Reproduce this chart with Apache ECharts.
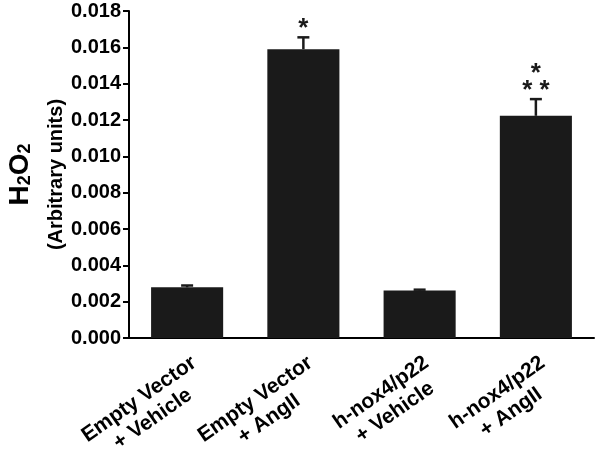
<!DOCTYPE html>
<html>
<head>
<meta charset="utf-8">
<script src="https://cdn.jsdelivr.net/npm/echarts@6/dist/echarts.min.js"></script>
<style>
  html, body { margin: 0; padding: 0; background: #fff; }
  #chart { width: 601px; height: 452px; }
</style>
</head>
<body>
<div id="chart"></div>
<script>
var groups = ['Empty Vector\n+ Vehicle', 'Empty Vector\n+ AngII', 'h-nox4/p22\n+ Vehicle', 'h-nox4/p22\n+ AngII'];
var means = [0.00279, 0.0159, 0.00261, 0.01223];
var errors = [0.0001, 0.00065, 0.00005, 0.00092];
var marks = ['', '*', '', '*\n* *'];
var yTicks = { min: 0, max: 0.018, step: 0.002 };

var font = 'Liberation Sans, Arial, sans-serif';
var ink = '#1a1a1a';

var chart = echarts.init(document.getElementById('chart'));

var errData = [];
for (var i = 0; i < means.length; i++) {
  errData.push([i, means[i], errors[i]]);
}

chart.setOption({
  animation: false,
  grid: { left: 129, right: 7, top: 11, bottom: 114, outerBoundsMode: 'none', containLabel: false },
  xAxis: {
    type: 'category',
    data: groups,
    axisLine: { lineStyle: { color: '#000', width: 2 } },
    axisTick: { alignWithLabel: true, length: 6, lineStyle: { color: '#000', width: 2 } },
    axisLabel: {
      interval: 0,
      rotate: 35,
      margin: 13,
      verticalAlign: 'top',
      formatter: function (v) {
        return v.split('\n').map(function (s) { return '{c|' + s + '}'; }).join('\n');
      },
      rich: {
        c: { align: 'center', fontSize: 21, fontWeight: 'bold', fontFamily: font, color: '#000', lineHeight: 24 }
      }
    }
  },
  yAxis: {
    type: 'value',
    min: yTicks.min,
    max: yTicks.max,
    interval: yTicks.step,
    splitLine: { show: false },
    axisLine: { show: true, lineStyle: { color: '#000', width: 2 } },
    axisTick: { show: true, length: 6, lineStyle: { color: '#000', width: 2 } },
    axisLabel: {
      margin: 8,
      fontSize: 20,
      fontWeight: 'bold',
      fontFamily: font,
      color: '#000',
      formatter: function (v) { return v.toFixed(3); }
    },
    name: '{h|H}{s|2}{h|O}{s|2}\n{u|(Arbitrary units)}',
    nameLocation: 'middle',
    nameGap: 51,
    nameMoveOverlap: false,
    nameTextStyle: {
      rich: {
        h: { fontSize: 28, fontWeight: 'bold', fontFamily: font, color: '#000', lineHeight: 28 },
        s: { fontSize: 18, fontWeight: 'bold', fontFamily: font, color: '#000', verticalAlign: 'bottom' },
        u: { fontSize: 20, fontWeight: 'bold', fontFamily: font, color: '#000', lineHeight: 44, align: 'center' }
      }
    }
  },
  series: [
    {
      type: 'bar',
      data: means,
      barWidth: '62%',
      itemStyle: { color: ink }
    },
    {
      type: 'custom',
      data: errData,
      z: 10,
      renderItem: function (params, api) {
        var base = api.coord([api.value(0), api.value(1)]);
        var top = api.coord([api.value(0), api.value(1) + api.value(2)]);
        var cap = 6;
        var children = [
          { type: 'line', shape: { x1: base[0], y1: base[1], x2: top[0], y2: top[1] }, style: { stroke: ink, lineWidth: 2.5 } },
          { type: 'line', shape: { x1: top[0] - cap, y1: top[1], x2: top[0] + cap, y2: top[1] }, style: { stroke: ink, lineWidth: 2.5 } }
        ];
        var mark = marks[params.dataIndex];
        if (mark) {
          children.push({
            type: 'text',
            style: {
              text: mark,
              x: top[0],
              y: top[1],
              align: 'center',
              verticalAlign: 'bottom',
              fontSize: 26,
              fontWeight: 'bold',
              fontFamily: font,
              lineHeight: 17,
              fill: ink
            }
          });
        }
        return { type: 'group', children: children };
      }
    }
  ]
});
</script>
</body>
</html>
